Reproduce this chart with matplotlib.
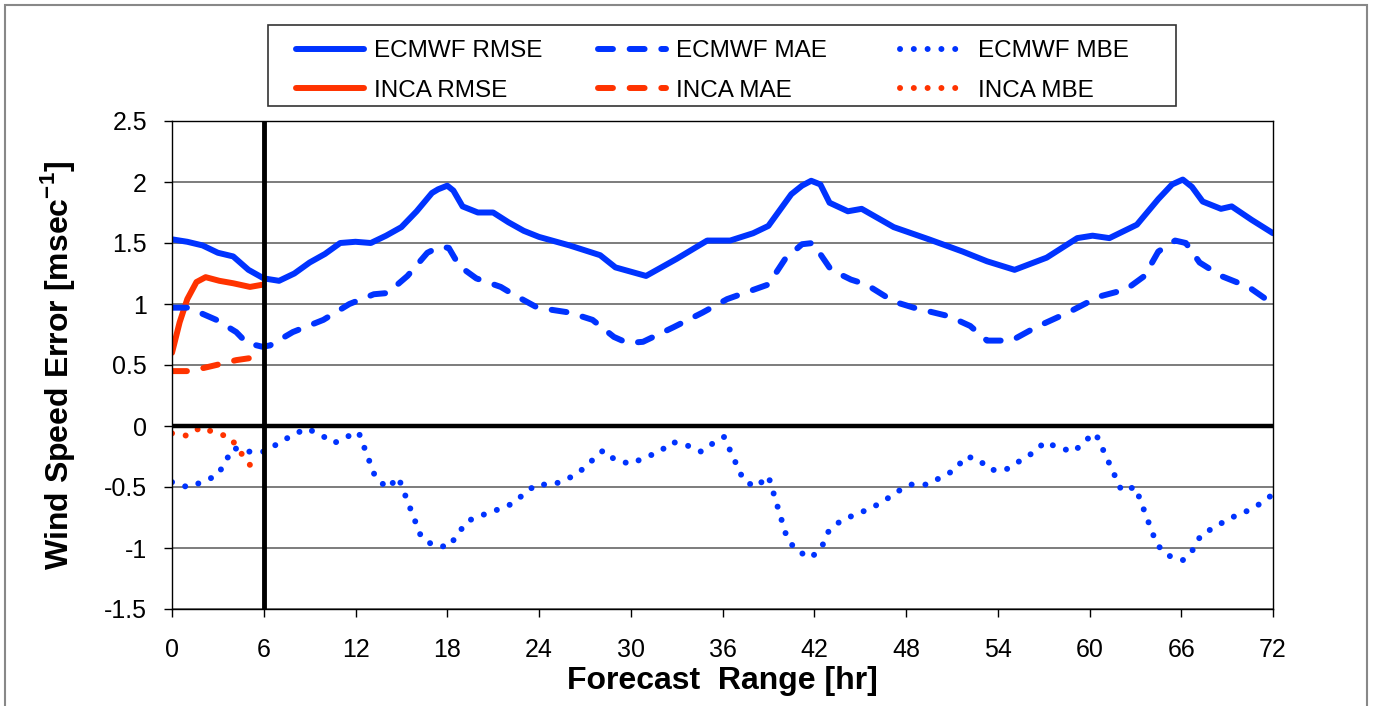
import matplotlib
matplotlib.use("Agg")
import matplotlib.pyplot as plt
from matplotlib.patches import Rectangle

plt.rcParams['font.family'] = ['Liberation Sans', 'DejaVu Sans']
plt.rcParams['axes.unicode_minus'] = False
plt.rcParams['mathtext.fontset'] = 'custom'
plt.rcParams['mathtext.bf'] = 'Liberation Sans:bold'
plt.rcParams['mathtext.rm'] = 'Liberation Sans'

# ECMWF, 0-72 h
hrs_rmse = [0, 1, 2, 3, 4, 5, 6, 7, 8, 9, 10, 11, 12, 13, 14, 15, 16, 17, 17.4, 18, 18.4, 19, 20, 21, 22,
            23, 24, 26, 28, 29, 31, 33, 35, 36.5, 38, 39, 40.5, 41.2, 41.8, 42.4, 43, 44.2, 45.1, 47.2,
            49.5, 51.7, 53.3, 55.1, 57.2, 59.2, 60.2, 61.3, 63.1, 64.5, 65.4, 66.1, 66.7, 67.4, 68.6,
            69.3, 70.6, 72]
ecmwf_rmse = [1.53, 1.51, 1.48, 1.42, 1.39, 1.28, 1.21, 1.19, 1.25, 1.34, 1.41, 1.50, 1.51, 1.50, 1.56,
              1.63, 1.76, 1.91, 1.94, 1.97, 1.93, 1.80, 1.75, 1.75, 1.67,
              1.60, 1.55, 1.48, 1.40, 1.30, 1.23, 1.37, 1.52, 1.52, 1.58, 1.64, 1.90, 1.97, 2.01, 1.98,
              1.83, 1.76, 1.78, 1.63, 1.53, 1.43, 1.35, 1.28, 1.38, 1.54, 1.56, 1.54, 1.65, 1.86, 1.98,
              2.02, 1.96, 1.84, 1.78, 1.80, 1.69, 1.58]

hrs_mae = [0, 1, 1.8, 2.9, 4.2, 4.9, 5.9, 6.4, 7.9, 9.9, 11.6, 13.2, 14.1, 15.4, 16.7, 17.5, 18.1, 18.8,
           19.9, 21.5, 22.3, 23.9, 26, 27.5, 28.9, 29.8, 30.8, 32.8, 34.7, 36.3, 37.2, 39, 40.1, 41.2,
           41.9, 43.1, 44.4, 45.4, 47.2, 48.5, 50.8, 52.2, 53.3, 54.9, 56.5, 58.6, 60.6, 62.4, 63.6,
           64.5, 65.6, 66.3, 67.2, 68.6, 70.4, 72]
ecmwf_mae = [0.97, 0.97, 0.93, 0.87, 0.77, 0.68, 0.65, 0.66, 0.77, 0.87, 1.00, 1.08, 1.09, 1.23, 1.42,
             1.47, 1.46, 1.31, 1.21, 1.14, 1.08, 0.97, 0.93, 0.87, 0.73, 0.68, 0.69, 0.81, 0.93, 1.04,
             1.08, 1.16, 1.37, 1.49, 1.50, 1.28, 1.20, 1.16, 1.02, 0.97, 0.90, 0.82, 0.70, 0.70, 0.81,
             0.93, 1.06, 1.12, 1.23, 1.43, 1.52, 1.50, 1.34, 1.23, 1.14, 1.00]

hrs_mbe = [0, 1, 2, 3, 3.5, 4, 5, 6, 7, 7.8, 8.8, 9.7, 10.6, 11.4, 12.2, 13.3, 14.1, 14.8, 16.3, 17.1,
           18.1, 19.3, 20.3, 21.2, 22.2, 23, 23.8, 24.9, 25.8, 26.7, 28.2, 29, 30, 30.9, 31.9, 32.7,
           33.7, 34.6, 35.4, 36.1, 37.4, 38.2, 39.0, 40.2, 40.8, 41.8, 42.5, 42.9, 43.7, 44.6, 45.6,
           46.5, 47.4, 48.3, 49.4, 50.3, 51.2, 51.9, 52.7, 53.5, 54.5, 55.4, 56.3, 57.1, 58, 59, 59.7,
           60.4, 62.1, 63, 64.4, 65.1, 66.1, 66.8, 67.3, 68.2, 69.1, 70.1, 71, 72]
ecmwf_mbe = [-0.46, -0.50, -0.46, -0.40, -0.29, -0.18, -0.21, -0.21, -0.14, -0.08, -0.02, -0.07, -0.14,
             -0.09, -0.05, -0.42, -0.51, -0.42, -0.91, -0.98, -0.99, -0.78, -0.73, -0.69, -0.64, -0.56,
             -0.48, -0.48, -0.44, -0.37, -0.20, -0.28, -0.31, -0.26, -0.21, -0.13, -0.16, -0.21, -0.14,
             -0.09, -0.45, -0.50, -0.41, -0.91, -1.02, -1.08, -0.99, -0.87, -0.78, -0.73, -0.68, -0.62,
             -0.54, -0.48, -0.48, -0.42, -0.36, -0.25, -0.27, -0.36, -0.36, -0.29, -0.22, -0.13, -0.18,
             -0.21, -0.12, -0.06, -0.53, -0.50, -0.97, -1.06, -1.10, -1.01, -0.89, -0.83, -0.76, -0.71,
             -0.65, -0.56]

# INCA, 0-6 h
hrs_inca_rmse = [0, 0.5, 1, 1.6, 2.2, 3.1, 4, 5.1, 6]
inca_rmse = [0.60, 0.85, 1.04, 1.18, 1.22, 1.19, 1.17, 1.14, 1.16]
hrs_inca_mae = [0, 1.2, 2.9, 4.2, 5.3, 6]
inca_mae = [0.45, 0.45, 0.50, 0.54, 0.56, 0.58]
hrs_inca_mbe = [0, 1, 1.9, 2.9, 3.8, 5, 5.8]
inca_mbe = [-0.06, -0.08, -0.01, -0.06, -0.09, -0.31, -0.38]

x_ticks = list(range(0, 73, 6))
y_ticks = [-1.5, -1, -0.5, 0, 0.5, 1, 1.5, 2, 2.5]
y_labels = ['-1.5', '-1', '-0.5', '0', '0.5', '1', '1.5', '2', '2.5']

blue = '#0033ff'
red = '#ff3300'
lw = 4.3
dash = (0, (2.5, 2.8))
dots = (0, (0.01, 2.3))

W, H = 1373, 706
fig = plt.figure(figsize=(W / 100, H / 100), dpi=100)
ax = fig.add_axes([172 / W, 1 - 609 / H, 1101 / W, 488 / H])

ax.set_xlim(0, 72)
ax.set_ylim(-1.5, 2.5)
ax.set_yticks(y_ticks)
ax.set_yticklabels(y_labels)
ax.set_xticks(x_ticks)
ax.grid(axis='y', color='#666666', lw=1.2)
ax.set_axisbelow(True)
for s in ax.spines.values():
    s.set_color('black')
    s.set_linewidth(1)
ax.tick_params(axis='y', direction='out', length=6, width=1, pad=12, labelsize=18)
ax.tick_params(axis='x', direction='out', length=6, width=1, pad=15, labelsize=18)

common = dict(lw=lw, solid_capstyle='round', dash_capstyle='round', solid_joinstyle='round')
l1, = ax.plot(hrs_rmse, ecmwf_rmse, color=blue, ls='-', label='ECMWF RMSE', **common)
l2, = ax.plot(hrs_inca_rmse, inca_rmse, color=red, ls='-', label='INCA RMSE', **common)
l3, = ax.plot(hrs_mae, ecmwf_mae, color=blue, ls=dash, label='ECMWF MAE', **common)
l4, = ax.plot(hrs_inca_mae, inca_mae, color=red, ls=dash, label='INCA MAE', **common)
l5, = ax.plot(hrs_mbe, ecmwf_mbe, color=blue, ls=dots, label='ECMWF MBE', **common)
l6, = ax.plot(hrs_inca_mbe, inca_mbe, color=red, ls=dots, label='INCA MBE', **common)

ax.axhline(0, color='black', lw=3.2, zorder=5)
ax.axvline(6, color='black', lw=3.5, zorder=5)

ax.set_xlabel('Forecast  Range [hr]', fontsize=23, fontweight='bold', labelpad=3)
ax.set_ylabel(r'Wind Speed Error [msec$^{\mathbf{-1}}$]', fontsize=23, fontweight='bold', labelpad=19)

# legend: one small legend per column, frame drawn separately
for pair, xpx in [((l1, l2), 284), ((l3, l4), 586), ((l5, l6), 888)]:
    lg = fig.legend(handles=list(pair), loc='upper left', bbox_to_anchor=(xpx / W, 1 - 28 / H),
                    bbox_transform=fig.transFigure, ncol=1, fontsize=17.5,
                    handlelength=2.8, handletextpad=0.4, labelspacing=0.72, borderpad=0,
                    frameon=False)
fig.patches.append(Rectangle((268 / W, 1 - 106 / H), 908 / W, 81 / H, transform=fig.transFigure,
                             fill=False, edgecolor='#333333', lw=1.2))

# outer chart frame
fig.patches.append(Rectangle((5 / W, -0.05), 1362 / W, 1.05 - 5 / H, transform=fig.transFigure,
                             fill=False, edgecolor='#888888', lw=1.5))

fig.savefig('out.png', dpi=100)
